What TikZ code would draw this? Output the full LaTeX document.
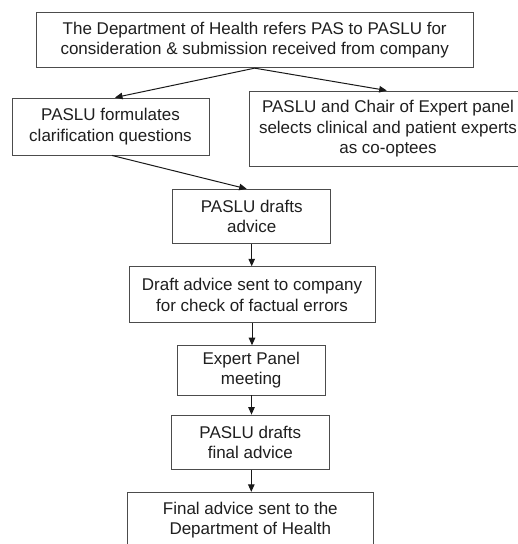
\documentclass[tikz,border=0pt]{standalone}
\usepackage{fontspec}
\setmainfont{Liberation Sans}
\usetikzlibrary{arrows.meta}
\begin{document}
\begin{tikzpicture}[x=1pt,y=-1pt,
  box/.style={draw=black!70,line width=0.9pt,align=center,inner sep=0pt,
    font=\fontsize{17}{20.5}\selectfont,text=black!88},
  arr/.style={draw=black!90,line width=1pt,-{Triangle[length=7.5pt,width=6.5pt]}}]
\useasboundingbox (0,0) rectangle (518,544);
\clip (0,0) rectangle (518,544);
\fill[white] (0,0) rectangle (518,544);
\node[box,minimum width=437pt,minimum height=55pt] (top) at (254.7,40.2)
  {The Department of Health refers PAS to PASLU for\\consideration \& submission received from company};
\node[box,minimum width=197pt,minimum height=57pt] (clar) at (110.5,126.5)
  {PASLU formulates\\clarification questions};
\node[box,minimum width=278pt,minimum height=75.7pt] (chair) at (388,128.8)
  {PASLU and Chair of Expert panel\\selects clinical and patient experts\\as co-optees};
\node[box,minimum width=158pt,minimum height=54pt] (drafts) at (251.7,216.3)
  {PASLU drafts\\advice};
\node[box,minimum width=246pt,minimum height=56pt] (sent) at (252,294.7)
  {Draft advice sent to company\\for check of factual errors};
\node[box,minimum width=148.3pt,minimum height=49.3pt] (expert) at (251.2,370.3)
  {Expert Panel\\meeting};
\node[box,minimum width=158pt,minimum height=54.3pt] (fdrafts) at (250.3,442.2)
  {PASLU drafts\\final advice};
\node[box,minimum width=246pt,minimum height=56pt] (final) at (250.3,520.3)
  {Final advice sent to the\\Department of Health};
\draw[arr] (top.south) -- ([xshift=4.5pt]clar.north);
\draw[arr] (top.south) -- ([xshift=-1.3pt]chair.north);
\draw[arr] ([xshift=1.5pt]clar.south) -- ([xshift=-5pt]drafts.north);
\draw[arr] (drafts.south) -- (drafts.south |- sent.north);
\draw[arr] (sent.south) -- (sent.south |- expert.north);
\draw[arr] ([xshift=0.3pt]expert.south) -- ([xshift=0.3pt]expert.south |- fdrafts.north);
\draw[arr] ([xshift=1pt]fdrafts.south) -- ([xshift=1pt]fdrafts.south |- final.north);
\end{tikzpicture}
\end{document}
